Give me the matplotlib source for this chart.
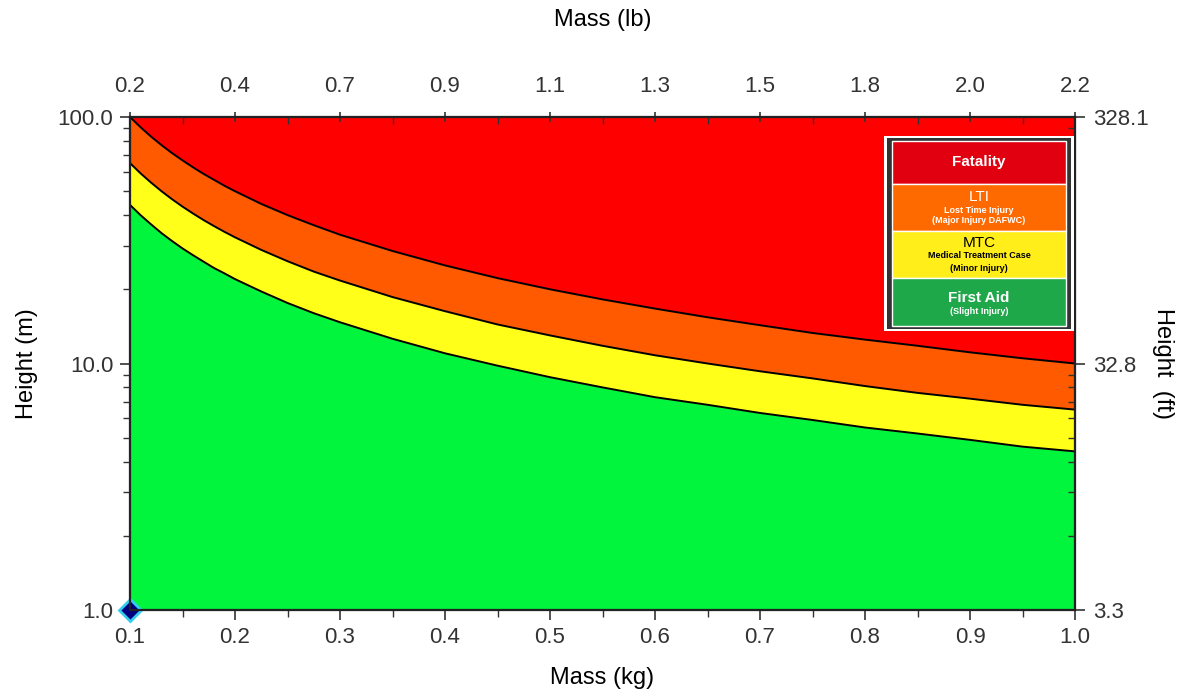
import numpy as np
import matplotlib.pyplot as plt
from matplotlib.patches import Rectangle
from matplotlib.ticker import FixedLocator, NullFormatter, LogLocator

plt.rcParams['font.family'] = ['Liberation Sans', 'DejaVu Sans']

# mass (kg) and boundary heights (m)
mass = [0.10, 0.11, 0.12, 0.13, 0.14, 0.15, 0.16, 0.17, 0.18, 0.19, 0.20,
        0.225, 0.25, 0.275, 0.3, 0.35, 0.4, 0.45, 0.5, 0.55, 0.6, 0.65,
        0.7, 0.75, 0.8, 0.85, 0.9, 0.95, 1.0]
fatality = [100, 90.9, 83.3, 76.9, 71.4, 66.7, 62.5, 58.8, 55.6, 52.6, 50,
            44.4, 40, 36.4, 33.3, 28.6, 25, 22.2, 20, 18.2, 16.7, 15.4,
            14.3, 13.3, 12.5, 11.8, 11.1, 10.5, 10.0]
lti = [65, 59.1, 54.2, 50, 46.4, 43.3, 40.6, 38.2, 36.1, 34.2, 32.5,
       28.9, 26, 23.6, 21.7, 18.6, 16.3, 14.4, 13, 11.8, 10.8, 10,
       9.3, 8.7, 8.1, 7.6, 7.2, 6.8, 6.5]
mtc = [44, 40, 36.7, 33.8, 31.4, 29.3, 27.5, 25.9, 24.4, 23.2, 22,
       19.6, 17.6, 16, 14.7, 12.6, 11, 9.8, 8.8, 8.0, 7.3, 6.8,
       6.3, 5.9, 5.5, 5.2, 4.9, 4.6, 4.4]

kg_ticks = [0.1, 0.2, 0.3, 0.4, 0.5, 0.6, 0.7, 0.8, 0.9, 1.0]
lb_labels = ['0.2', '0.4', '0.7', '0.9', '1.1', '1.3', '1.5', '1.8', '2.0', '2.2']
m_ticks = [1, 10, 100]
m_labels = ['1.0', '10.0', '100.0']
ft_labels = ['3.3', '32.8', '328.1']

fig = plt.figure(figsize=(11.88, 6.93), dpi=100)
ax = fig.add_axes([130/1188, 1-610/693, 945/1188, 493/693])

ax.fill_between(mass, fatality, 100, color='#ff0000', lw=0)
ax.fill_between(mass, lti, fatality, color='#ff5a00', lw=0)
ax.fill_between(mass, mtc, lti, color='#ffff1a', lw=0)
ax.fill_between(mass, 1, mtc, color='#00f53c', lw=0)
for h in (fatality, lti, mtc):
    ax.plot(mass, h, color='black', lw=1.4)

ax.plot([0.1], [1.0], marker='D', ms=11, mfc='#000080', mec='#33ccee', mew=2,
        clip_on=False, zorder=10)

tc = '#333333'
ax.set_xlim(0.1, 1.0)
ax.set_yscale('log')
ax.set_ylim(1, 100)
ax.set_xticks(kg_ticks)
ax.set_xticklabels(['%.1f' % v for v in kg_ticks])
ax.xaxis.set_minor_locator(FixedLocator(np.arange(0.15, 1.0, 0.1)))
ax.set_yticks(m_ticks)
ax.set_yticklabels(m_labels)
ax.yaxis.set_minor_locator(LogLocator(subs=np.arange(2, 10)))
ax.yaxis.set_minor_formatter(NullFormatter())
ax.tick_params(labelsize=16, colors=tc, length=7, width=1.2, pad=5)
ax.tick_params(which='minor', length=5, width=1.0, colors=tc)
ax.set_xlabel('Mass (kg)', fontsize=17, labelpad=14)
ax.set_ylabel('Height (m)', fontsize=17, labelpad=14)

axt = ax.twiny()
axt.set_xlim(0.1, 1.0)
axt.set_xticks(kg_ticks)
axt.set_xticklabels(lb_labels)
axt.xaxis.set_minor_locator(FixedLocator(np.arange(0.15, 1.0, 0.1)))
axt.tick_params(labelsize=16, colors=tc, length=7, width=1.2, direction='inout', pad=11)
axt.tick_params(which='minor', length=5, width=1.0, colors=tc, direction='in')
axt.set_xlabel('Mass (lb)', fontsize=17, labelpad=36)

axr = ax.twinx()
axr.set_yscale('log')
axr.set_ylim(1, 100)
axr.set_yticks(m_ticks)
axr.set_yticklabels(ft_labels)
axr.yaxis.set_minor_locator(LogLocator(subs=np.arange(2, 10)))
axr.yaxis.set_minor_formatter(NullFormatter())
axr.tick_params(labelsize=16, colors=tc, length=7, width=1.2, pad=6)
axr.tick_params(which='minor', length=5, width=1.0, colors=tc, direction='in')
axr.set_ylabel('Height  (ft)', fontsize=17, rotation=270, labelpad=18)

for a in (ax, axt, axr):
    for s in a.spines.values():
        s.set_color('#222222')
        s.set_linewidth(1.5)

# legend box
leg = fig.add_axes([884/1188, 1-331/693, 190/1188, 195/693])
leg.set_xlim(0, 1)
leg.set_ylim(0, 1)
leg.axis('off')
leg.add_patch(Rectangle((0, 0), 1, 1, fc='white', ec='none'))
leg.add_patch(Rectangle((0.015, 0.012), 0.97, 0.976, fc='#333333', ec='none'))
rows = [('#e00010', 0.755, 0.975), ('#ff6a00', 0.515, 0.755),
        ('#ffee1a', 0.27, 0.515), ('#1fa84a', 0.025, 0.27)]
for c, y0, y1 in rows:
    leg.add_patch(Rectangle((0.04, y0), 0.92, y1 - y0, fc=c, ec='white', lw=1))
leg.text(0.5, 0.865, 'Fatality', color='white', fontsize=11, weight='bold', ha='center', va='center')
leg.text(0.5, 0.685, 'LTI', color='white', fontsize=11, ha='center', va='center')
leg.text(0.5, 0.617, 'Lost Time Injury', color='white', fontsize=6.5, weight='bold', ha='center', va='center')
leg.text(0.5, 0.565, '(Major Injury DAFWC)', color='white', fontsize=6.5, weight='bold', ha='center', va='center')
leg.text(0.5, 0.452, 'MTC', color='black', fontsize=11, ha='center', va='center')
leg.text(0.5, 0.385, 'Medical Treatment Case', color='black', fontsize=6.5, weight='bold', ha='center', va='center')
leg.text(0.5, 0.318, '(Minor Injury)', color='black', fontsize=6.5, weight='bold', ha='center', va='center')
leg.text(0.5, 0.17, 'First Aid', color='white', fontsize=11, weight='bold', ha='center', va='center')
leg.text(0.5, 0.1, '(Slight Injury)', color='white', fontsize=6.5, weight='bold', ha='center', va='center')

fig.savefig('out.png', dpi=100)
